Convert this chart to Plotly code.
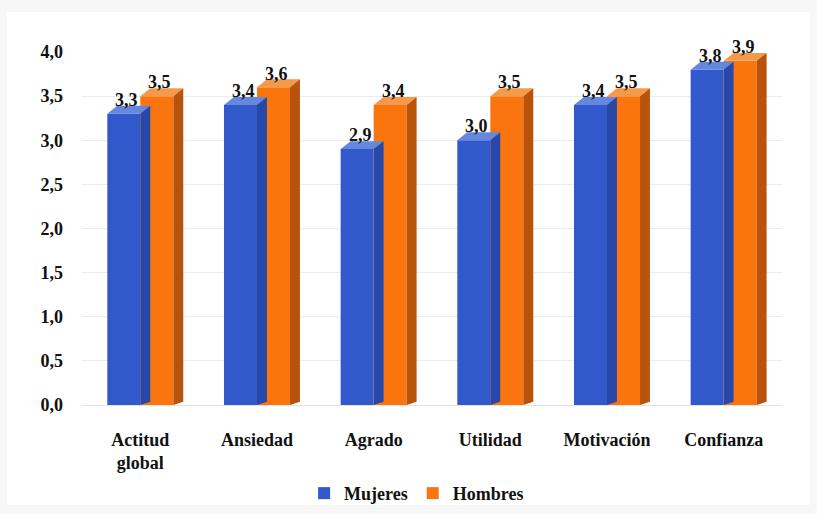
import plotly.graph_objects as go

# Data
categories = ["Actitud<br>global", "Ansiedad", "Agrado", "Utilidad", "Motivación", "Confianza"]
mujeres = [3.3, 3.4, 2.9, 3.0, 3.4, 3.8]
hombres = [3.5, 3.6, 3.4, 3.5, 3.5, 3.9]
y_ticks = [0.0, 0.5, 1.0, 1.5, 2.0, 2.5, 3.0, 3.5, 4.0]

# Styling
FONT = "Times New Roman"
BAR_W = 0.283          # bar width in category units
DX, DY = 0.085, 0.09   # depth of the pseudo-3D extrusion (x units, y units)

series = [
    ("Mujeres", mujeres, -BAR_W, "#3259cc", "#6488de", "#2748a8"),
    ("Hombres", hombres, 0.0, "#fb750f", "#f59a4a", "#b9530c"),
]

xs = list(range(len(categories)))
fig = go.Figure()

for name, vals, off, front, top, side in series:
    # front faces
    fig.add_trace(go.Bar(
        x=xs, y=vals, name=name, width=BAR_W, offset=off,
        marker=dict(color=front, line=dict(width=0)),
        hoverinfo="skip",
    ))
    # top faces
    tx, ty = [], []
    for x, v in zip(xs, vals):
        x0, x1 = x + off, x + off + BAR_W
        tx += [x0, x1, x1 + DX, x0 + DX, x0, None]
        ty += [v, v, v + DY, v + DY, v, None]
    fig.add_trace(go.Scatter(x=tx, y=ty, mode="lines", fill="toself",
                             fillcolor=top, line=dict(width=0, color=top),
                             showlegend=False, hoverinfo="skip"))
    # side faces
    sx, sy = [], []
    for x, v in zip(xs, vals):
        x1 = x + off + BAR_W
        sx += [x1, x1 + DX, x1 + DX, x1, x1, None]
        sy += [0, DY * 0.4, v + DY, v, 0, None]
    fig.add_trace(go.Scatter(x=sx, y=sy, mode="lines", fill="toself",
                             fillcolor=side, line=dict(width=0, color=side),
                             showlegend=False, hoverinfo="skip"))

# value labels above each bar
for name, vals, off, *_ in series:
    for x, v in zip(xs, vals):
        fig.add_annotation(
            x=x + off + BAR_W / 2 + DX * 0.3, y=v + DY * 0.6,
            text=f"{v:.1f}".replace(".", ","), showarrow=False,
            yanchor="bottom", xanchor="center", yshift=-3,
            font=dict(family=FONT, size=18, color="#111111", weight=700),
        )

fig.update_layout(
    width=817, height=514,
    margin=dict(l=82, r=35, t=52, b=109, autoexpand=False),
    paper_bgcolor="#f7f7f7",
    plot_bgcolor="rgba(0,0,0,0)",
    font=dict(family=FONT, weight=700),
    barmode="overlay",
    separators=",.",
    showlegend=True,
    legend=dict(
        orientation="h", x=0.478, xanchor="center",
        yref="container", y=0.04, yanchor="middle",
        font=dict(family=FONT, size=18, color="#111111", weight=700),
        itemwidth=30, traceorder="normal", bgcolor="rgba(0,0,0,0)",
    ),
    shapes=[dict(type="rect", xref="paper", yref="paper", layer="below",
                 x0=-0.107, x1=1.04, y0=-0.283, y1=1.113,
                 fillcolor="white", line=dict(width=0))],
    xaxis=dict(
        range=[-0.5, 5.5], tickvals=xs, ticktext=categories,
        showgrid=False, zeroline=False, showline=False, automargin=False,
        ticks="outside", ticklen=0, tickcolor="rgba(0,0,0,0)",
        ticklabelstandoff=18,
        tickfont=dict(family=FONT, size=18, color="#111111", weight=700),
    ),
    yaxis=dict(
        range=[0, 4.0], tickvals=y_ticks, tickformat=".1f", automargin=False,
        showgrid=True, gridcolor="#ececec", gridwidth=1,
        zeroline=True, zerolinecolor="#e2e2e2", zerolinewidth=1,
        showline=False, ticks="", ticklabelstandoff=18,
        tickfont=dict(family=FONT, size=18, color="#111111", weight=700),
    ),
)

fig.write_html("out.html")
